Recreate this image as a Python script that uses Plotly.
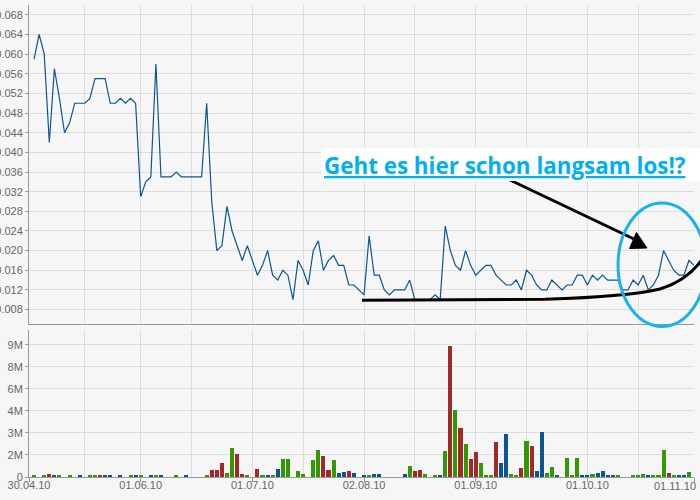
import pandas as pd
import plotly.graph_objects as go

# ---------------- data ----------------
trade_days = pd.bdate_range("2010-04-30", "2010-11-01")  # index 0 .. 131

label_dates = ["2010-04-30", "2010-06-01", "2010-07-01", "2010-08-02",
               "2010-09-01", "2010-10-01", "2010-11-01"]
label_text = ["30.04.10", "01.06.10", "01.07.10", "02.08.10",
              "01.09.10", "01.10.10", "01.11.10"]
mid_dates = ["2010-05-17", "2010-06-15", "2010-07-15", "2010-08-16",
             "2010-09-15", "2010-10-15"]

first_day = "2010-05-03"

price = [
    0.059, 0.064, 0.060, 0.042, 0.057, 0.051, 0.044, 0.046, 0.050, 0.050,
    0.050, 0.051, 0.055, 0.055, 0.055, 0.050, 0.050, 0.051, 0.050, 0.051,
    0.050, 0.031, 0.034, 0.035, 0.058, 0.035, 0.035, 0.035, 0.036, 0.035,
    0.035, 0.035, 0.035, 0.035, 0.050, 0.030, 0.020, 0.021, 0.029, 0.024,
    0.021, 0.018, 0.021, 0.018, 0.015, 0.017, 0.020, 0.015, 0.014, 0.016,
    0.015, 0.010, 0.018, 0.016, 0.013, 0.020, 0.022, 0.016, 0.018, 0.019,
    0.017, 0.017, 0.013, 0.013, 0.012, 0.011, 0.023, 0.015, 0.015, 0.012,
    0.011, 0.012, 0.012, 0.012, 0.014, 0.010, 0.010, 0.010, 0.010, 0.011,
    0.010, 0.025, 0.020, 0.017, 0.016, 0.020, 0.017, 0.015, 0.016, 0.017,
    0.017, 0.015, 0.014, 0.013, 0.013, 0.014, 0.012, 0.016, 0.015, 0.013,
    0.012, 0.012, 0.014, 0.013, 0.012, 0.013, 0.013, 0.015, 0.015, 0.013,
    0.015, 0.014, 0.015, 0.014, 0.014, 0.014, 0.012, 0.012, 0.014, 0.013,
    0.015, 0.012, 0.013, 0.015, 0.020, 0.018, 0.016, 0.015, 0.015, 0.018,
    0.017,
]

# volume in millions (0 = no bar), direction: u = green, d = red, n = blue
volume = [
    0.07, 0, 0.07, 0.18, 0.07, 0.07, 0, 0.07, 0, 0.07,
    0, 0.07, 0.07, 0.07, 0.07, 0.07, 0, 0.07, 0, 0.07,
    0.07, 0.07, 0, 0.07, 0.07, 0.07, 0, 0, 0.07, 0,
    0.07, 0, 0, 0, 0.07, 0.45, 0.45, 0.93, 0.25, 1.95,
    1.54, 0.18, 0.07, 0, 0.52, 0.07, 0.14, 0.07, 0.52, 1.20,
    1.20, 0, 0.39, 0.18, 0, 1.13, 1.81, 1.40, 0.45, 1.13,
    0.25, 0.32, 0.39, 0.25, 0, 0.07, 0.07, 0.18, 0.18, 0,
    0, 0, 0, 0.18, 0.73, 0.39, 0.45, 0.18, 0, 0.07,
    0.14, 1.74, 8.88, 4.53, 3.31, 2.22, 1.20, 1.68, 0.93, 0.07,
    0.07, 2.36, 0.93, 2.90, 0.18, 0.07, 0.59, 2.42, 2.08, 0.39,
    3.04, 0.25, 0.66, 0.07, 0, 1.27, 0.07, 1.27, 0.07, 0.07,
    0.20, 0.25, 0.39, 0.14, 0.07, 0.14, 0, 0, 0.14, 0.07,
    0.18, 0.07, 0.14, 0.14, 1.81, 0.25, 0.07, 0.14, 0.14, 0.32,
    0,
]
direction = [
    "u", "", "u", "d", "n", "u", "", "u", "", "n",
    "", "u", "u", "d", "n", "n", "", "n", "", "u",
    "n", "u", "", "n", "u", "n", "", "", "u", "",
    "n", "", "", "", "u", "d", "d", "d", "u", "u",
    "d", "d", "u", "", "d", "u", "n", "u", "n", "u",
    "u", "", "u", "u", "", "u", "u", "d", "d", "u",
    "n", "n", "d", "n", "", "n", "u", "n", "n", "",
    "", "", "", "n", "u", "d", "d", "u", "", "u",
    "n", "u", "d", "u", "d", "u", "d", "d", "u", "u",
    "u", "d", "n", "n", "u", "u", "d", "u", "d", "n",
    "n", "u", "u", "n", "", "u", "u", "u", "n", "n",
    "u", "n", "n", "n", "n", "u", "", "", "u", "u",
    "u", "n", "u", "u", "u", "d", "u", "n", "n", "u",
    "",
]

ytick_vol = [0, 1.5e6, 3e6, 4.5e6, 6e6, 7.5e6, 9e6]
ytick_vol_text = ["0", "2M", "3M", "4M", "6M", "8M", "9M"]

# ---------------- helpers ----------------
def day_index(d):
    return int(trade_days.get_loc(pd.Timestamp(d)))

start = day_index(first_day)
x_price = [start + k for k in range(len(price))]
x_vol = [start + k for k in range(len(volume))]
label_idx = [day_index(d) for d in label_dates]
mid_idx = [day_index(d) for d in mid_dates]
last_idx = len(trade_days) - 1

W, H = 700, 500
ML, MR, MT, MB = 29, 6, 5, 23


def px(x):
    return (x - ML) / (W - ML - MR)


def py(y):
    return (H - MB - y) / (H - MT - MB)


def path(cmds):
    out = []
    for c in cmds:
        if isinstance(c, str):
            out.append(c)
        else:
            out.append(f"{px(c[0]):.5f},{py(c[1]):.5f}")
    return " ".join(out)


colors = {"u": "#339900", "d": "#a3282a", "n": "#0b5596"}

fig = go.Figure()

fig.add_trace(go.Scatter(
    x=x_price, y=price, mode="lines", xaxis="x2", yaxis="y2",
    line=dict(color="#0b5596", width=1.2), showlegend=False,
))

for key in ["u", "d", "n"]:
    xs = [x for x, v, dct in zip(x_vol, volume, direction) if dct == key and v > 0]
    vs = [v * 1e6 for v, dct in zip(volume, direction) if dct == key and v > 0]
    fig.add_trace(go.Bar(
        x=xs, y=vs, xaxis="x", yaxis="y", width=0.8,
        marker=dict(color=colors[key], line=dict(width=0)), showlegend=False,
    ))

tick_font = dict(family="Liberation Sans, Arial, sans-serif", size=11, color="#666666")
grid = "#dddddd"
axis_line = "#999999"

top_bottom = py(324.3)
bottom_top = py(330)

# the last date label is drawn shifted left so it stays inside the picture
shown_text = label_text[:-1] + [""]

fig.update_layout(
    width=W, height=H,
    margin=dict(l=ML, r=MR, t=MT, b=MB, pad=0, autoexpand=False),
    paper_bgcolor="#f6f6f6", plot_bgcolor="#f6f6f6",
    barmode="overlay", bargap=0,
    xaxis=dict(
        domain=[0, 1], anchor="y", range=[0, last_idx], automargin=False,
        tickmode="array", tickvals=label_idx, ticktext=shown_text,
        ticks="outside", ticklen=4, tickcolor=axis_line, ticklabelstandoff=-6,
        showline=True, linecolor=axis_line, linewidth=1,
        showgrid=True, gridcolor=grid, zeroline=False, tickfont=tick_font,
        minor=dict(tickmode="array", tickvals=mid_idx, showgrid=True,
                   gridcolor=grid, ticks=""),
    ),
    yaxis=dict(
        domain=[0, bottom_top], anchor="x", range=[0, 1e7], automargin=False,
        tickmode="array", tickvals=ytick_vol, ticktext=ytick_vol_text,
        ticks="outside", ticklen=3, tickcolor=axis_line,
        showline=True, linecolor=axis_line, linewidth=1,
        showgrid=True, gridcolor=grid, zeroline=False, tickfont=tick_font,
    ),
    xaxis2=dict(
        domain=[0, 1], anchor="y2", range=[0, last_idx], automargin=False,
        tickmode="array", tickvals=label_idx, showticklabels=False, ticks="",
        showline=True, linecolor=axis_line, linewidth=1,
        showgrid=True, gridcolor=grid, zeroline=False,
        minor=dict(tickmode="array", tickvals=mid_idx, showgrid=True,
                   gridcolor=grid, ticks=""),
    ),
    yaxis2=dict(
        domain=[top_bottom, 1], anchor="x2", range=[0.005, 0.070], automargin=False,
        tick0=0.008, dtick=0.004, tickformat=".3f",
        ticks="outside", ticklen=3, tickcolor=axis_line,
        showline=True, linecolor=axis_line, linewidth=1,
        showgrid=True, gridcolor=grid, zeroline=False, tickfont=tick_font,
    ),
)

fig.add_annotation(
    xref="paper", yref="paper", x=px(698), y=py(485.5),
    xanchor="right", yanchor="middle", showarrow=False,
    text=label_text[-1], font=tick_font,
)

shapes = []
# black hand-drawn support line
shapes.append(dict(
    type="path", xref="paper", yref="paper", layer="above",
    path=path(["M", (362, 300.3), "L", (545, 299.3), "C", (600, 297.5), (640, 294),
               (660, 289), "C", (680, 283), (692, 273), (701, 261)]),
    line=dict(color="black", width=3),
))
# arrow shaft
shapes.append(dict(
    type="line", xref="paper", yref="paper", layer="above",
    x0=px(510), y0=py(180), x1=px(636), y1=py(240),
    line=dict(color="black", width=3),
))
# arrow head
shapes.append(dict(
    type="path", xref="paper", yref="paper", layer="above",
    path=path(["M", (629.5, 248.5), "L", (636.5, 232.5), "L", (647, 248), "Z"]),
    fillcolor="black", line=dict(color="black", width=1),
))
# cyan ellipse
shapes.append(dict(
    type="circle", xref="paper", yref="paper", layer="above",
    x0=px(618), x1=px(706), y0=py(326.5), y1=py(203),
    line=dict(color="#1ab2ec", width=3),
))
# white box behind text
shapes.append(dict(
    type="rect", xref="paper", yref="paper", layer="above",
    x0=px(321), x1=px(703), y0=py(181), y1=py(148),
    fillcolor="white", line=dict(width=0),
))
fig.update_layout(shapes=shapes)

fig.add_annotation(
    xref="paper", yref="paper", x=px(505), y=py(165),
    xanchor="center", yanchor="middle", showarrow=False,
    text="<b><u>Geht es hier schon langsam los!?</u></b>",
    font=dict(family="Open Sans, Lato, sans-serif", size=22.4, color="#00b0f0"),
)

fig.write_html(
    "out.html",
    config={"displayModeBar": False},
    post_script="document.body.style.margin='0';document.body.style.overflow='hidden';",
)
